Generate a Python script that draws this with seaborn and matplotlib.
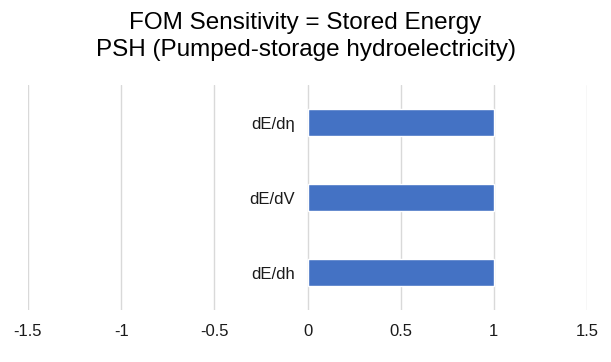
import matplotlib
matplotlib.use("Agg")
import matplotlib.pyplot as plt
import seaborn as sns
import pandas as pd

categories = ["dE/dη", "dE/dV", "dE/dh"]
values = [1, 1, 1]
xticks = [-1.5, -1, -0.5, 0, 0.5, 1, 1.5]
xtick_labels = ["-1.5", "-1", "-0.5", "0", "0.5", "1", "1.5"]
title = "FOM Sensitivity = Stored Energy\nPSH (Pumped-storage hydroelectricity)"

sns.set_theme(style="white")
plt.rcParams["font.family"] = ["Liberation Sans", "DejaVu Sans"]

df = pd.DataFrame({"cat": categories, "val": values})

fig = plt.figure(figsize=(6.11, 3.62), dpi=100)
ax = fig.add_axes([28 / 611, 1 - 310 / 362, (587 - 28) / 611, (310 - 85) / 362])

sns.barplot(data=df, x="val", y="cat", order=categories, orient="h",
            color="#4472C4", saturation=1, width=0.35, ax=ax, zorder=3)

ax.set_xlim(-1.5, 1.5)
ax.set_ylim(2.5, -0.5)
ax.set_xticks(xticks)
ax.set_xticklabels(xtick_labels)
ax.set_xlabel("")
ax.set_ylabel("")
ax.grid(axis="x", color="#D9D9D9", linewidth=1, zorder=0)
ax.grid(axis="y", visible=False)
for s in ["top", "right", "bottom"]:
    ax.spines[s].set_visible(False)
ax.spines["left"].set_position(("data", 0))
ax.spines["left"].set_visible(False)
ax.tick_params(axis="y", length=0, pad=9, labelsize=12, labelcolor="#1a1a1a")
ax.tick_params(axis="x", length=0, pad=10, labelsize=12, labelcolor="#1a1a1a")

fig.text(0.5, 1 - 12 / 362, title, fontsize=17.5, ha="center", va="top",
         color="black", linespacing=1.32)

fig.savefig("out.png", dpi=100)
